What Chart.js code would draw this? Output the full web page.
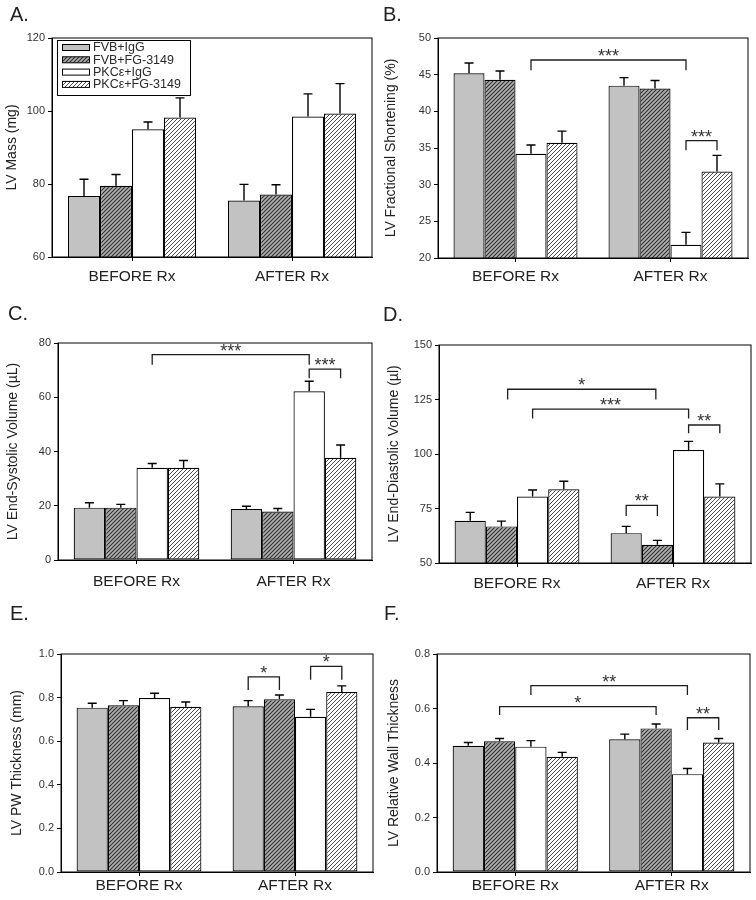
<!DOCTYPE html>
<html><head><meta charset="utf-8">
<script src="https://cdn.jsdelivr.net/npm/chart.js@4.4.1/dist/chart.umd.min.js"></script>
<style>
html,body{margin:0;padding:0;background:#fff;}
#wrap{position:relative;width:756px;height:900px;background:#fff;}
#wrap canvas{position:absolute;}
</style></head><body><div id="wrap"></div>
<script>
// ---------------- DATA ----------------
const groups = ['BEFORE Rx', 'AFTER Rx'];
const seriesNames = ['FVB+IgG', 'FVB+FG-3149', 'PKCε+IgG', 'PKCε+FG-3149'];

// each inner array = [BEFORE Rx, AFTER Rx] for one series (order as seriesNames)
const massMeans = [[76.7, 75.5], [79.5, 77.1], [95.0, 98.5], [98.2, 99.3]];
const massErrs  = [[4.6, 4.4], [3.1, 2.7], [2.0, 6.2], [5.4, 8.2]];
const massTicks = [60, 80, 100, 120];

const fsMeans = [[45.2, 43.5], [44.3, 43.1], [34.2, 21.8], [35.7, 31.8]];
const fsErrs  = [[1.4, 1.1], [1.2, 1.1], [1.2, 1.7], [1.6, 2.2]];
const fsTicks = [20, 25, 30, 35, 40, 45, 50];

const esvMeans = [[19.3, 18.8], [19.3, 17.9], [34.0, 62.2], [34.0, 37.7]];
const esvErrs  = [[1.8, 1.0], [1.2, 1.1], [1.6, 3.7], [2.7, 4.7]];
const esvTicks = [0, 20, 40, 60, 80];

const edvMeans = [[69.4, 63.7], [66.8, 58.4], [80.5, 101.8], [83.8, 80.5]];
const edvErrs  = [[3.8, 3.1], [2.4, 2.0], [3.0, 4.0], [3.7, 5.8]];
const edvTicks = [50, 75, 100, 125, 150];

const pwMeans = [[0.754, 0.760], [0.765, 0.792], [0.798, 0.712], [0.758, 0.826]];
const pwErrs  = [[0.020, 0.026], [0.021, 0.020], [0.022, 0.034], [0.022, 0.028]];
const pwTicks = [0.0, 0.2, 0.4, 0.6, 0.8, 1.0];

const rwtMeans = [[0.463, 0.487], [0.480, 0.527], [0.460, 0.359], [0.423, 0.475]];
const rwtErrs  = [[0.012, 0.019], [0.010, 0.016], [0.022, 0.021], [0.016, 0.015]];
const rwtTicks = [0.0, 0.2, 0.4, 0.6, 0.8];

// significance brackets: [group1, series1, group2, series2, bracket level, leg-end level, label]
const massBrackets = [];
const fsBrackets  = [[0, 2, 1, 2, 47.0, 45.6, '***'], [1, 2, 1, 3, 36.0, 34.7, '***']];
const esvBrackets = [[0, 2, 1, 2, 75.7, 72.0, '***'], [1, 2, 1, 3, 70.4, 67.0, '***']];
const edvBrackets = [[0, 1.2, 1, 0.95, 129.7, 125.0, '*'], [0, 2, 1, 2, 120.6, 116.3, '***'],
                     [1, 2, 1, 3, 113.3, 109.5, '**'], [1, 0, 1, 1, 76.4, 71.6, '**']];
const pwBrackets  = [[1, 0, 1, 1, 0.895, 0.835, '*'], [1, 2, 1, 3, 0.943, 0.882, '*']];
const rwtBrackets = [[0, 2, 1, 2, 0.684, 0.650, '**'], [0, 1, 1, 1, 0.607, 0.576, '*'],
                     [1, 2, 1, 3, 0.566, 0.521, '**']];

// ---------------- STYLE ----------------
const FONT = "'Liberation Sans', Arial, Helvetica, sans-serif";
Chart.defaults.font.family = FONT;
Chart.defaults.color = '#2a2a2a';

function hatch(bg, fg, size, lw) {
  const c = document.createElement('canvas');
  c.width = size; c.height = size;
  const x = c.getContext('2d');
  x.fillStyle = bg; x.fillRect(0, 0, size, size);
  x.strokeStyle = fg; x.lineWidth = lw;
  x.beginPath();
  x.moveTo(0, size); x.lineTo(size, 0);
  x.moveTo(-size, size); x.lineTo(size, -size);
  x.moveTo(0, 2 * size); x.lineTo(2 * size, 0);
  x.stroke();
  return x.createPattern(c, 'repeat');
}
const fills = [
  '#c2c2c2',
  hatch('#b0b0b0', '#303030', 4, 1.1),
  '#ffffff',
  hatch('#ffffff', '#4a4a4a', 4, 1.0)
];

const panels = [
  {letter: 'A.', means: massMeans, errs: massErrs, ticks: massTicks, dec: 0, title: 'LV Mass (mg)',
   brackets: massBrackets, legend: true, left: 0, top: 0,
   L: 52, R: 372, T: 38, B: 257, titlePad: 4, xPad: 6, lx: 10, ly: 21},
  {letter: 'B.', means: fsMeans, errs: fsErrs, ticks: fsTicks, dec: 0, title: 'LV Fractional Shortening (%)',
   brackets: fsBrackets, legend: false, left: 378, top: 0,
   L: 60, R: 370, T: 38, B: 258, titlePad: 5, xPad: 5, lx: 5, ly: 21},
  {letter: 'C.', means: esvMeans, errs: esvErrs, ticks: esvTicks, dec: 0, title: 'LV End-Systolic Volume (µL)',
   brackets: esvBrackets, legend: false, left: 0, top: 300,
   L: 58, R: 372, T: 43, B: 260, titlePad: 5, xPad: 8, lx: 8, ly: 20},
  {letter: 'D.', means: edvMeans, errs: edvErrs, ticks: edvTicks, dec: 0, title: 'LV End-Diastolic Volume (µl)',
   brackets: edvBrackets, legend: false, left: 378, top: 300,
   L: 61, R: 373, T: 45, B: 263, titlePad: 8, xPad: 7, lx: 5, ly: 21},
  {letter: 'E.', means: pwMeans, errs: pwErrs, ticks: pwTicks, dec: 1, title: 'LV PW Thickness (mm)',
   brackets: pwBrackets, legend: false, left: 0, top: 600,
   L: 61, R: 373, T: 54, B: 272, titlePad: 9, xPad: 0, lx: 10, ly: 20},
  {letter: 'F.', means: rwtMeans, errs: rwtErrs, ticks: rwtTicks, dec: 1, title: 'LV Relative Wall Thickness',
   brackets: rwtBrackets, legend: false, left: 378, top: 600,
   L: 59, R: 372, T: 54, B: 272, titlePad: 8, xPad: 0, lx: 6, ly: 20}
];

const decor = {
  id: 'decor',
  afterDatasetsDraw(chart, args, o) {
    const ctx = chart.ctx, ca = chart.chartArea, ys = chart.scales.y, xs = chart.scales.x;
    ctx.save();
    // error bars (upper whisker only)
    ctx.strokeStyle = '#000'; ctx.lineWidth = 1.4;
    chart.data.datasets.forEach((ds, di) => {
      const meta = chart.getDatasetMeta(di);
      meta.data.forEach((bar, i) => {
        const yt = ys.getPixelForValue(ds.data[i] + ds.errorBars[i]);
        ctx.beginPath();
        ctx.moveTo(bar.x, bar.y); ctx.lineTo(bar.x, yt);
        ctx.moveTo(bar.x - 4.5, yt); ctx.lineTo(bar.x + 4.5, yt);
        ctx.stroke();
      });
    });
    // frame
    ctx.lineWidth = 1; ctx.strokeStyle = '#000';
    ctx.strokeRect(ca.left, ca.top, ca.right - ca.left, ca.bottom - ca.top);
    // brackets
    const bw = chart.getDatasetMeta(0).data[0].width;
    const px = (g, s) => xs.getPixelForValue(g) + (s - 1.5) * bw;
    ctx.strokeStyle = '#1e1e1e'; ctx.lineWidth = 1.3;
    ctx.fillStyle = '#333';
    ctx.font = '18px ' + FONT; ctx.textAlign = 'center'; ctx.textBaseline = 'alphabetic';
    (o.brackets || []).forEach(b => {
      const x1 = px(b[0], b[1]), x2 = px(b[2], b[3]);
      const yl = ys.getPixelForValue(b[4]), ye = ys.getPixelForValue(b[5]);
      ctx.beginPath();
      ctx.moveTo(x1, ye); ctx.lineTo(x1, yl); ctx.lineTo(x2, yl); ctx.lineTo(x2, ye);
      ctx.stroke();
      ctx.fillText(b[6], (x1 + x2) / 2, yl + 2);
    });
    ctx.restore();
  },
  afterDraw(chart, args, o) {
    const ctx = chart.ctx;
    ctx.save();
    ctx.fillStyle = '#222';
    ctx.font = '20px ' + FONT; ctx.textAlign = 'left'; ctx.textBaseline = 'alphabetic';
    ctx.fillText(o.letter, o.lx, o.ly);
    if (o.legend) {
      const bx = 57, by = 40, bwid = 133, bh = 55;
      ctx.fillStyle = '#fff';
      ctx.fillRect(bx, by, bwid, bh);
      ctx.strokeStyle = '#000'; ctx.lineWidth = 1;
      ctx.strokeRect(bx + 0.5, by + 0.5, bwid, bh);
      ctx.font = '12.5px ' + FONT; ctx.textBaseline = 'middle';
      seriesNames.forEach((n, i) => {
        const yc = 47.5 + i * 12.3;
        ctx.fillStyle = fills[i];
        ctx.fillRect(62, yc - 3, 27, 6);
        ctx.strokeStyle = '#000'; ctx.lineWidth = 1;
        ctx.strokeRect(62.5, yc - 3, 27, 6);
        ctx.fillStyle = '#2a2a2a';
        ctx.fillText(n, 93, yc + 0.5);
      });
    }
    ctx.restore();
  }
};

const wrap = document.getElementById('wrap');
panels.forEach(p => {
  const cv = document.createElement('canvas');
  cv.width = 378; cv.height = 300;
  cv.style.left = p.left + 'px'; cv.style.top = p.top + 'px';
  cv.style.width = '378px'; cv.style.height = '300px';
  wrap.appendChild(cv);
  const tmin = p.ticks[0], tmax = p.ticks[p.ticks.length - 1];
  const step = p.ticks[1] - p.ticks[0];
  new Chart(cv, {
    type: 'bar',
    data: {
      labels: groups,
      datasets: seriesNames.map((n, i) => ({
        label: n,
        data: p.means[i],
        errorBars: p.errs[i],
        backgroundColor: fills[i],
        borderColor: '#000',
        borderWidth: 1.2,
        borderSkipped: false,
        categoryPercentage: 0.8,
        barPercentage: 1.0
      }))
    },
    options: {
      responsive: false,
      animation: false,
      devicePixelRatio: 1,
      layout: {padding: {left: 0, top: p.T, right: 378 - p.R, bottom: 0}},
      plugins: {
        legend: {display: false},
        tooltip: {enabled: false},
        decor: {letter: p.letter, lx: p.lx, ly: p.ly, brackets: p.brackets, legend: p.legend}
      },
      scales: {
        x: {
          type: 'category',
          offset: true,
          grid: {display: true, drawOnChartArea: false, drawTicks: true, tickLength: 4, offset: false, color: '#000', lineWidth: 1},
          border: {display: true, color: '#000', width: 1},
          ticks: {font: {size: 15.5}, color: '#222', padding: p.xPad, maxRotation: 0, autoSkip: false},
          afterFit: s => { s.height = 300 - p.B; }
        },
        y: {
          min: tmin, max: tmax,
          grid: {display: true, drawOnChartArea: false, drawTicks: true, tickLength: 4, color: '#000', lineWidth: 1},
          border: {display: true, color: '#000', width: 1},
          ticks: {stepSize: step, font: {size: 11}, color: '#333', padding: 3,
                  callback: v => Number(v).toFixed(p.dec)},
          title: {display: true, text: p.title, font: {size: 14}, color: '#222', padding: {top: p.titlePad, bottom: 0}},
          afterFit: s => { s.width = p.L; }
        }
      }
    },
    plugins: [decor]
  });
});
</script>
</body></html>
